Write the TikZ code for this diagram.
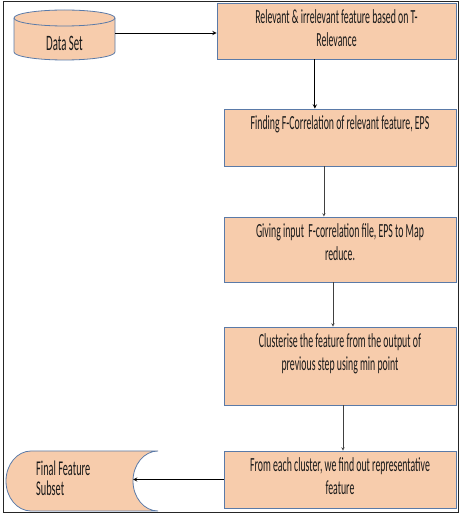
\documentclass[tikz,border=0pt]{standalone}
\usepackage{fontspec}
\setmainfont{Carlito}[FakeStretch=0.49]
\usetikzlibrary{positioning,calc}

\definecolor{peach}{RGB}{247,204,172}
\definecolor{edgeblue}{RGB}{90,122,168}

\tikzset{
  stepbox/.style={draw=edgeblue, fill=peach, line width=0.8pt, inner sep=0pt},
  steptext/.style={align=center, inner sep=0pt, text=black!90,
    font=\fontsize{20}{23}\selectfont},
  flow/.style={->, >=stealth, line width=0.9pt},
  thinflow/.style={->, >=stealth, line width=0.5pt, draw=black!75}
}

\begin{document}
\begin{tikzpicture}[x=1pt,y=1pt]
    \useasboundingbox (0,0) rectangle (465,531);
    % Frame
    \draw[line width=1pt, black!85] (3,18) rectangle (458,529);
    % Data set (cylinder)
    \path[stepbox] (14,513) -- (14,479)
        arc[start angle=180, end angle=360, x radius=50.5, y radius=8]
        -- (115,513)
        arc[start angle=0, end angle=180, x radius=50.5, y radius=8] -- cycle;
    \draw[edgeblue, line width=0.8pt] (14,513)
        arc[start angle=180, end angle=360, x radius=50.5, y radius=8];
    \node[steptext, font=\fontsize{22}{23}\selectfont] (ds) at (64.5,488) {Data Set};
    \coordinate (ds-out) at (115,498);
    % Steps
    \node[stepbox, minimum width=239pt, minimum height=56pt] (b1) at (336.5,500) {};
    \node[stepbox, minimum width=232pt, minimum height=57pt] (b2) at (340,393.5) {};
    \node[stepbox, minimum width=232pt, minimum height=65pt] (b3) at (340,281.5) {};
    \node[stepbox, minimum width=232pt, minimum height=78pt] (b4) at (340,165) {};
    \node[stepbox, minimum width=232pt, minimum height=57pt] (b5) at (340,51.5) {};
    % Step texts
    \node[steptext, below=7pt of b1.north] (t1) {Relevant \& irrelevant feature based on T-\\Relevance};
    \node[steptext, below=7pt of b2.north] (t2) {Finding F-Correlation of relevant feature, EPS};
    \node[steptext, below=7pt of b3.north] (t3) {Giving input\ \ F-correlation file, EPS to Map\\reduce.};
    \node[steptext, below=7pt of b4.north] (t4) {Clusterise the feature from the output of\\previous step using min point};
    \node[steptext, below=7pt of b5.north] (t5) {From each cluster, we find out representative\\feature};
    % Final feature subset (stored data)
    \path[stepbox] (158,80) -- (31,80)
        arc[start angle=90, end angle=270, x radius=25, y radius=30]
        -- (158,20)
        arc[start angle=-90, end angle=-270, x radius=25, y radius=30] -- cycle;
    \node[steptext, align=left, anchor=west, font=\fontsize{21}{20}\selectfont] (fin) at (36,53) {Final Feature\\Subset};
    \coordinate (fin-in) at (133,50);
    % Connectors
    \coordinate (a1) at ($(b1.south west)!0.41!(b1.south east)$);
    \coordinate (a2) at ($(b2.south west)!0.431!(b2.south east)$);
    \coordinate (a3) at ($(b3.south west)!0.47!(b3.south east)$);
    \coordinate (a4) at ($(b4.south west)!0.513!(b4.south east)$);
    \draw[flow] (ds-out) -- (ds-out -| b1.west);
    \draw[flow] (a1) -- (a1 |- b2.north);
    \draw[thinflow] (a2) -- (a2 |- b3.north);
    \draw[thinflow] (a3) -- (a3 |- b4.north);
    \draw[thinflow] (a4) -- (a4 |- b5.north);
    \draw[flow] (b5.west) -- (b5.west -| fin-in);
\end{tikzpicture}
\end{document}
